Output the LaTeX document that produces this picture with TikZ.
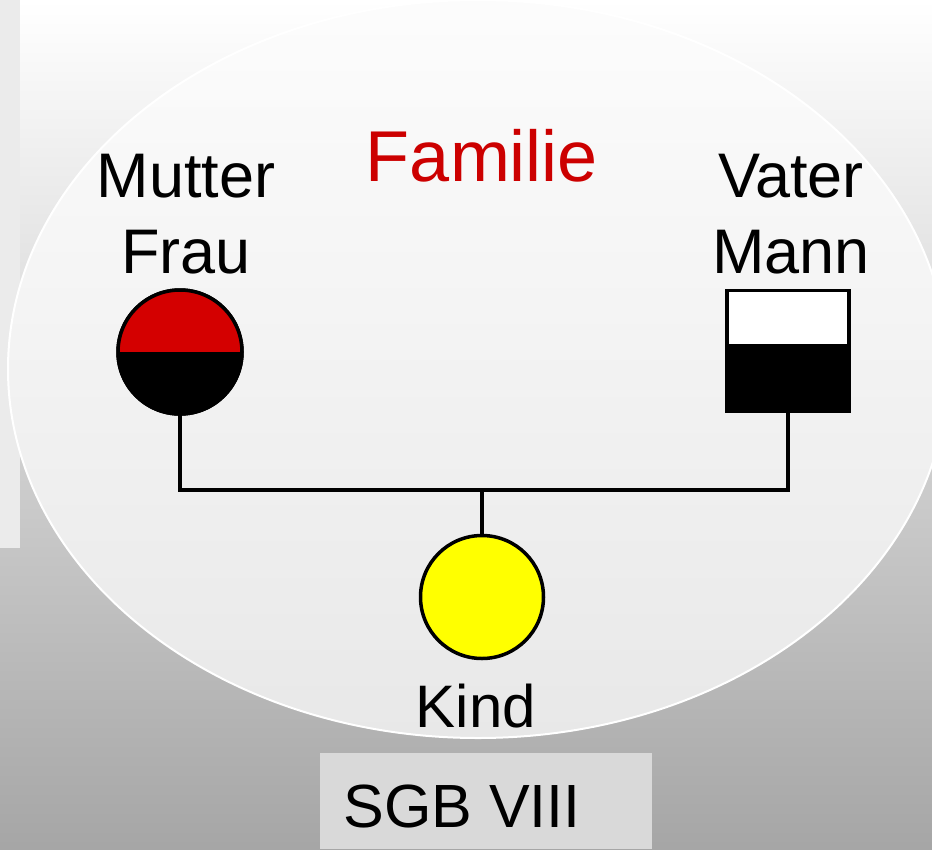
\documentclass[tikz,border=0pt]{standalone}
\usepackage{fontspec}
\setmainfont{Liberation Sans}
\definecolor{mred}{HTML}{D40000}
\definecolor{tred}{HTML}{CC0000}
\definecolor{myellow}{HTML}{FFFF00}
\begin{document}
\begin{tikzpicture}[x=1pt,y=-1pt,
  lbl/.style={anchor=base, inner sep=0pt, font=\fontsize{63}{63}\selectfont},
  sym/.style={draw=black, line width=3.5pt, inner sep=0pt, outer sep=0pt},
  conn/.style={line width=3.5pt}]
\useasboundingbox (0,0) rectangle (932,849);
\shade[top color=white, bottom color=black!35] (0,0) rectangle (932,849);
\fill[black!8] (0,0) rectangle (20,548);
\shade[top color=black!1, bottom color=black!9, draw=white, line width=2pt] (478,369) ellipse [x radius=470pt, y radius=369pt];
% SGB box
\fill[black!15] (320,753) rectangle (652,849);
\node[lbl, font=\fontsize{61}{61}\selectfont] (sgb) at (462,827) {SGB VIII};
% texts
\node[lbl, text=tred, font=\fontsize{72}{72}\selectfont] (fam) at (482,181) {Familie};
\node[lbl] (mt) at (186,197) {Mutter};
\node[lbl] (fr) at (186,273) {Frau};
\node[lbl] (vt) at (791,197) {Vater};
\node[lbl] (mn) at (791,273) {Mann};
\node[lbl, font=\fontsize{60}{60}\selectfont] (kd) at (476,727) {Kind};
% mother
\node[sym, circle, minimum size=124pt, fill=black] (mutter) at (180,352) {};
\begin{scope}
  \clip (mutter.center) circle (62pt);
  \fill[mred] (116,288) rectangle (244,352);
\end{scope}
\draw[line width=3.5pt] (mutter.center) circle (62pt);
% father
\node[sym, rectangle, minimum width=122pt, minimum height=121pt, fill=white] (vater) at (788,351) {};
\fill[black] (726,344) rectangle (850,412);
\draw[line width=3.5pt] (vater.north west) rectangle (vater.south east);
% child
\node[sym, circle, minimum size=123pt, fill=myellow] (kind) at (482,597) {};
% connectors
\coordinate (j) at (482,490);
\draw[conn] (mutter.south) |- (j) -| (vater.south);
\draw[conn] (j) -- (kind.north);
\end{tikzpicture}
\end{document}
